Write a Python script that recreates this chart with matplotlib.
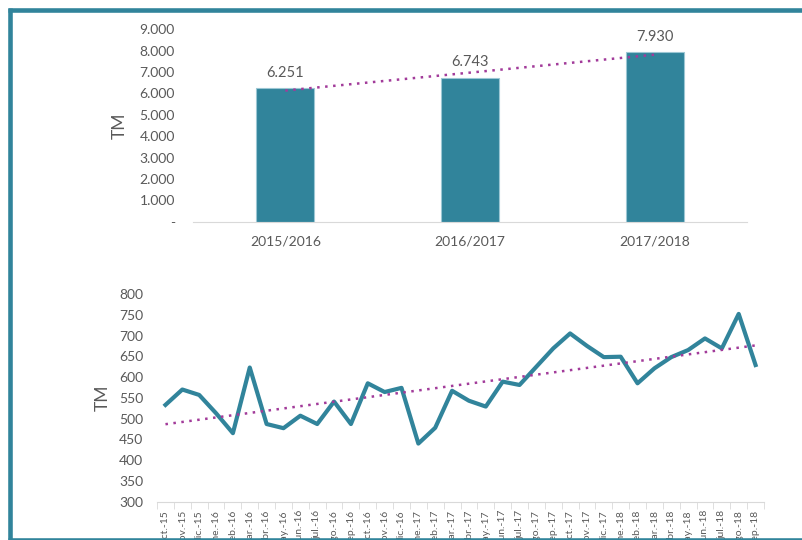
import numpy as np
import matplotlib.pyplot as plt
from matplotlib.lines import Line2D
from matplotlib.ticker import FuncFormatter, FixedLocator

plt.rcParams['font.family'] = ['Lato', 'DejaVu Sans']

seasons = ['2015/2016', '2016/2017', '2017/2018']
season_tm = [6251, 6743, 7930]

months = ['oct.-15', 'nov.-15', 'dic.-15', 'ene.-16', 'feb.-16', 'mar.-16',
          'abr.-16', 'may.-16', 'jun.-16', 'jul.-16', 'ago.-16', 'sep.-16',
          'oct.-16', 'nov.-16', 'dic.-16', 'ene.-17', 'feb.-17', 'mar.-17',
          'abr.-17', 'may.-17', 'jun.-17', 'jul.-17', 'ago.-17', 'sep.-17',
          'oct.-17', 'nov.-17', 'dic.-17', 'ene.-18', 'feb.-18', 'mar.-18',
          'abr.-18', 'may.-18', 'jun.-18', 'jul.-18', 'ago.-18', 'sep.-18']
month_tm = [533, 570, 557, 513, 465, 623, 487, 477, 507, 487, 541, 487,
            585, 564, 574, 440, 478, 567, 543, 529, 589, 581, 625, 669,
            705, 675, 648, 649, 585, 621, 648, 665, 693, 669, 752, 629]

teal = '#31849B'
trend_col = '#A23B9A'
txt = '#595959'
grid_gray = '#D9D9D9'

fig = plt.figure(figsize=(8.02, 5.40), dpi=100)

# top: bars per season
ax1 = fig.add_axes([0.2406, 0.5894, 0.6908, 0.3563])
x1 = np.arange(len(seasons))
ax1.bar(x1, season_tm, width=0.315, color=teal, edgecolor='#9CC7D4', linewidth=0.8, zorder=2)
for xi, v in zip(x1, season_tm):
    ax1.annotate(f'{v:,}'.replace(',', '.'), (xi, v), xytext=(0, 6), textcoords='offset points',
                 ha='center', va='bottom', fontsize=10.5, color=txt)
c1 = np.polyfit(x1, season_tm, 1)
ax1.plot(x1, np.polyval(c1, x1), color=trend_col, lw=1.8, linestyle=(0, (1, 2.2)), zorder=3)
ax1.set_xlim(-0.5, 2.5)
ax1.set_ylim(0, 9000)
ax1.set_yticks(np.arange(0, 9001, 1000))
ax1.yaxis.set_major_formatter(FuncFormatter(lambda v, p: '-' if v == 0 else f'{v:,.0f}'.replace(',', '.')))
ax1.set_xticks(x1)
ax1.set_xticklabels(seasons)
ax1.tick_params(axis='y', length=0, pad=13, labelsize=10, labelcolor=txt)
ax1.tick_params(axis='x', length=0, pad=10, labelsize=10, labelcolor=txt)
for s in ['top', 'right', 'left']:
    ax1.spines[s].set_visible(False)
ax1.spines['bottom'].set_color(grid_gray)
ax1.set_ylabel('TM', fontsize=12.5, color=txt)
ax1.yaxis.set_label_coords(-0.117, 0.5)

# bottom: monthly line
ax2 = fig.add_axes([0.1958, 0.0709, 0.7568, 0.3847])
x2 = np.arange(len(months))
ax2.plot(x2, month_tm, color=teal, lw=3.0, solid_joinstyle='round', zorder=2)
c2 = np.polyfit(x2, month_tm, 1)
ax2.plot(x2, np.polyval(c2, x2), color=trend_col, lw=1.8, linestyle=(0, (1, 2.2)), zorder=3)
ax2.set_xlim(-0.5, len(months) - 0.5)
ax2.set_ylim(300, 800)
ax2.set_yticks(np.arange(300, 801, 50))
ax2.set_xticks(x2)
ax2.set_xticklabels(months, rotation=90, ha='center', va='top')
ax2.xaxis.set_minor_locator(FixedLocator(np.arange(-0.5, len(months), 1)))
ax2.tick_params(axis='x', which='major', length=0, pad=6, labelsize=7.5, labelcolor=txt)
ax2.tick_params(axis='x', which='minor', length=5, color=grid_gray)
ax2.tick_params(axis='y', length=0, pad=10, labelsize=10, labelcolor=txt)
for s in ['top', 'right', 'left']:
    ax2.spines[s].set_visible(False)
ax2.spines['bottom'].set_color(grid_gray)
ax2.set_ylabel('TM', fontsize=12.5, color=txt)
ax2.yaxis.set_label_coords(-0.077, 0.5)

# teal frame around the picture
W, H = 802, 540
bw = 3.3
fig.add_artist(Line2D([10.3 / W, 10.3 / W], [1 - 8 / H, -0.01], color=teal, lw=bw, zorder=10, solid_capstyle='butt'))
fig.add_artist(Line2D([8 / W, 1.01], [1 - 10.4 / H, 1 - 10.4 / H], color=teal, lw=bw, zorder=10, solid_capstyle='butt'))
fig.add_artist(Line2D([8 / W, 1.01], [1 - 539.5 / H, 1 - 539.5 / H], color=teal, lw=bw, zorder=10, solid_capstyle='butt'))

fig.savefig('out.png', dpi=100)
